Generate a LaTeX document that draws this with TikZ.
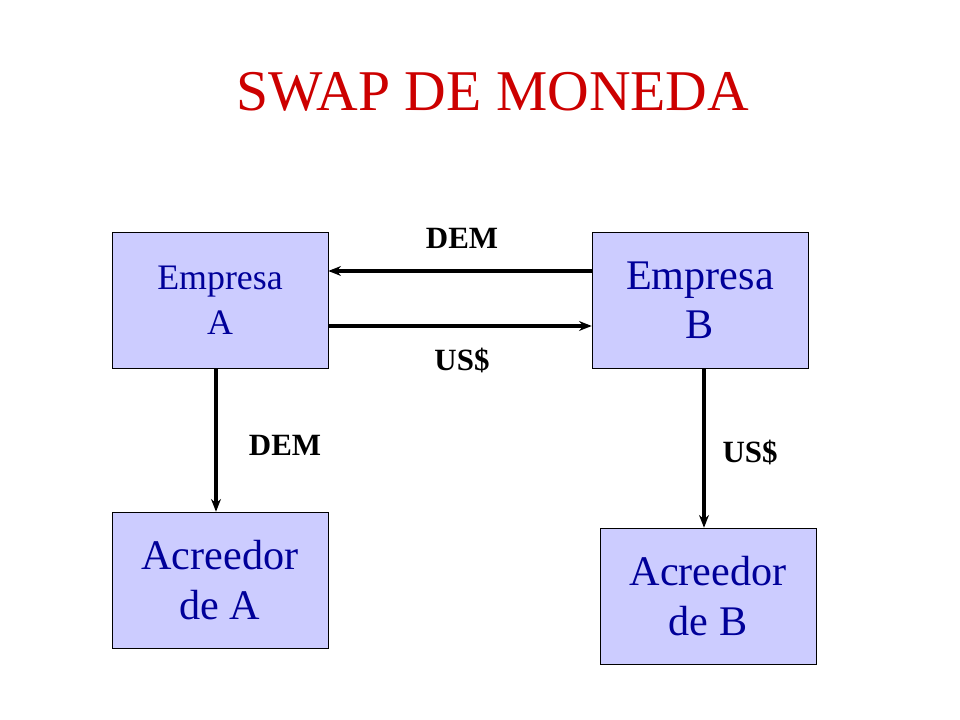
\documentclass[tikz,border=0pt]{standalone}
\usepackage{fontspec}
\setmainfont{Liberation Serif}
\usetikzlibrary{arrows.meta,positioning,calc}
\definecolor{boxfill}{RGB}{204,204,255}
\definecolor{boxtext}{RGB}{0,0,153}
\definecolor{titlered}{RGB}{204,0,0}
\begin{document}
\begin{tikzpicture}[x=0.025cm,y=-0.025cm]
	\useasboundingbox (0,0) rectangle (960,720);
	\tikzset{firm/.style={draw=black,fill=boxfill,text=boxtext,align=center,
			minimum width=216*0.025cm,minimum height=136*0.025cm,inner sep=0pt,
			font=\fontsize{30}{35}\selectfont},
		flow/.style={font=\bfseries\fontsize{22}{24}\selectfont},
		>={Stealth[length=9pt,width=7pt]}}

	\node[text=titlered,font=\fontsize{41}{46}\selectfont] (title) at (493,92) {SWAP DE MONEDA};

	\node[firm,font=\fontsize{25.5}{32}\selectfont] (EA) at (220,300) {Empresa\\A};
	\node[firm] (EB) at (700,300) {Empresa\\B};
	\node[firm] (CA) at (220,580) {Acreedor\\de A};
	\node[firm] (CB) at (708,596) {Acreedor\\de B};

	\begin{scope}[line width=2.2pt]
		\draw[->] ($(EB.west)+(0,-29)$) -- ($(EA.east)+(0,-29)$);
		\draw[->] ($(EA.east)+(0,26)$) -- ($(EB.west)+(0,26)$);
		\draw[->] ($(EA.south)+(-4,0)$) -- ($(CA.north)+(-4,0)$);
		\draw[->] ($(EB.south)+(4,0)$) -- ($(CB.north)+(-4,0)$);
	\end{scope}

	\node[flow] (l1) at (462,238) {DEM};
	\node[flow] (l2) at (462,360) {US\$};
	\node[flow] (l3) at (285,445) {DEM};
	\node[flow] (l4) at (750,452) {US\$};
\end{tikzpicture}
\end{document}
